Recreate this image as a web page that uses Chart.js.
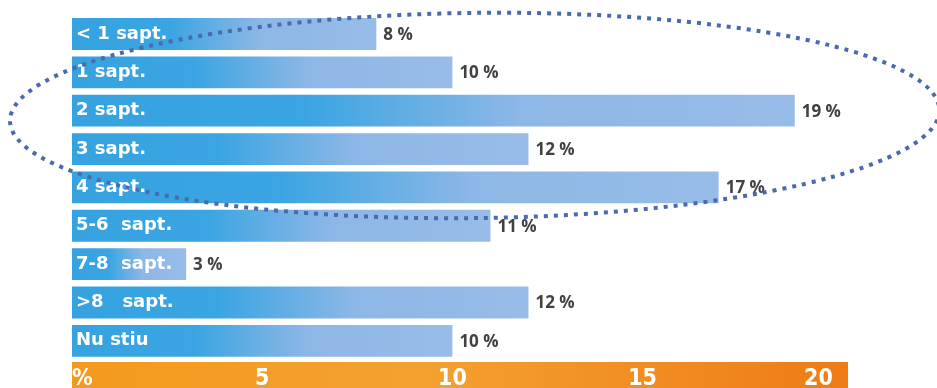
<!DOCTYPE html>
<html>
<head>
<meta charset="utf-8">
<script src="https://cdn.jsdelivr.net/npm/chart.js@4/dist/chart.umd.min.js"></script>
<style>
  html, body { margin: 0; padding: 0; background: #fff; }
  #wrap { width: 937px; height: 388px; position: relative; }
</style>
</head>
<body>
<div id="wrap"><canvas id="myChart"></canvas></div>
<script>
// durata (saptamani) - procente
const categories = ['< 1 sapt.', '1 sapt.', '2 sapt.', '3 sapt.', '4 sapt.', '5-6  sapt.', '7-8  sapt.', '>8   sapt.', 'Nu stiu'];
const percents = [8, 10, 19, 12, 17, 11, 3, 12, 10];
const tickValues = [0, 5, 10, 15, 20];
const tickLabels = ['%', '5', '10', '15', '20'];

// dotted ring around the first five rows (x in %, y in row index)
const ringX = [-1.63, 22.8];
const ringY = [-0.55, 4.8];

// each bar fades from bright blue to pale blue along its own length
function barGradient(context) {
  const chart = context.chart;
  const area = chart.chartArea;
  if (!area) return '#3aa3df';
  const x = chart.scales.x;
  const x0 = x.getPixelForValue(0);
  const x1 = x.getPixelForValue(percents[context.dataIndex]);
  const g = chart.ctx.createLinearGradient(x0, 0, x1, 0);
  g.addColorStop(0, '#36a2e0');
  g.addColorStop(0.32, '#3aa5e2');
  g.addColorStop(0.62, '#8db7e6');
  g.addColorStop(1, '#98bce8');
  return g;
}

// orange band behind the x axis
const axisBand = {
  id: 'axisBand',
  beforeDraw(chart) {
    const ctx = chart.ctx;
    const x = chart.scales.x;
    const top = x.top + 2;
    const g = ctx.createLinearGradient(x.left, 0, x.right, 0);
    g.addColorStop(0, '#f39a1e');
    g.addColorStop(0.45, '#f4a130');
    g.addColorStop(1, '#ee7b16');
    ctx.save();
    ctx.fillStyle = g;
    ctx.fillRect(x.left, top, x.right - x.left, x.bottom - top);
    ctx.restore();
  }
};

// "NN %" next to each bar
const valueLabels = {
  id: 'valueLabels',
  afterDatasetsDraw(chart) {
    const ctx = chart.ctx;
    const meta = chart.getDatasetMeta(0);
    ctx.save();
    ctx.font = 'bold 17px "Open Sans", sans-serif';
    ctx.fillStyle = '#414141';
    ctx.textAlign = 'left';
    ctx.textBaseline = 'middle';
    meta.data.forEach((bar, i) => {
      ctx.fillText(percents[i] + ' %', bar.x + 7, bar.y + 1);
    });
    ctx.restore();
  }
};

// dotted ellipse on top of everything
const ring = {
  id: 'ring',
  afterDraw(chart) {
    const ctx = chart.ctx;
    const x = chart.scales.x;
    const y = chart.scales.y;
    const l = x.getPixelForValue(ringX[0]);
    const r = x.getPixelForValue(ringX[1]);
    const t = y.getPixelForValue(ringY[0]);
    const b = y.getPixelForValue(ringY[1]);
    ctx.save();
    ctx.strokeStyle = '#4b69ae';
    ctx.lineWidth = 4;
    ctx.lineCap = 'butt';
    ctx.setLineDash([4, 6]);
    ctx.beginPath();
    ctx.ellipse((l + r) / 2, (t + b) / 2, (r - l) / 2, (b - t) / 2, -0.012, 0, Math.PI * 2);
    ctx.stroke();
    ctx.restore();
  }
};

new Chart('myChart', {
  type: 'bar',
  data: {
    labels: categories,
    datasets: [{
      data: percents,
      backgroundColor: barGradient,
      borderWidth: 0,
      barPercentage: 1,
      categoryPercentage: 0.83
    }]
  },
  options: {
    indexAxis: 'y',
    responsive: true,
    maintainAspectRatio: false,
    animation: false,
    layout: { padding: { top: 12, right: 89, bottom: 0, left: 0 } },
    plugins: {
      legend: { display: false },
      tooltip: { enabled: false }
    },
    scales: {
      x: {
        min: 0,
        max: 20.4,
        grid: { display: false, drawTicks: false },
        border: { display: false },
        afterBuildTicks(scale) {
          scale.ticks = tickValues.map(v => ({ value: v }));
        },
        afterFit(scale) { scale.height = 28; },
        ticks: {
          align: 'inner',
          padding: 5,
          color: '#ffffff',
          font: { family: '"Liberation Sans Narrow", "DejaVu Sans Condensed", sans-serif', size: 23, weight: 'bold' },
          callback(value) {
            const i = tickValues.indexOf(value);
            return i >= 0 ? tickLabels[i] : '';
          }
        }
      },
      y: {
        grid: { display: false, drawTicks: false },
        border: { display: false },
        afterFit(scale) { scale.width = 72; },
        ticks: {
          z: 1,
          mirror: true,
          padding: 4,
          color: '#ffffff',
          font: { family: '"DejaVu Sans", sans-serif', size: 18, weight: 'bold' }
        }
      }
    }
  },
  plugins: [axisBand, valueLabels, ring]
});
</script>
</body>
</html>
